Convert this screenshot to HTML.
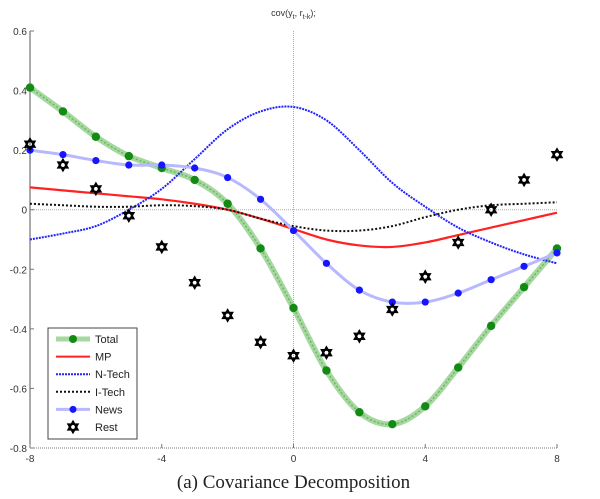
<!DOCTYPE html>
<html><head><meta charset="utf-8"><style>
body{margin:0;background:#fff;width:600px;height:494px;overflow:hidden}
svg text{font-family:"Liberation Sans",sans-serif}
svg text.cap{font-family:"Liberation Serif",serif}
</style></head><body>
<svg id="c" width="600" height="494"></svg>
<script>
const lags=[-8,-7,-6,-5,-4,-3,-2,-1,0,1,2,3,4,5,6,7,8];
const total=[.41,.33,.245,.18,.14,.10,.02,-.13,-.33,-.54,-.68,-.72,-.66,-.53,-.39,-.26,-.13];
const news=[.20,.185,.165,.15,.15,.14,.108,.035,-.07,-.18,-.27,-.31,-.31,-.28,-.235,-.19,-.145];
const rest=[.22,.15,.07,-.02,-.125,-.245,-.355,-.445,-.49,-.48,-.425,-.335,-.225,-.11,0,.1,.185];
const mp=[.075,.065,.055,.045,.035,.02,0,-.03,-.065,-.1,-.12,-.125,-.11,-.085,-.06,-.035,-.01];
const ntech=[-.1,-.08,-.055,0,.07,.17,.27,.33,.345,.3,.2,.09,.01,-.06,-.11,-.15,-.18];
const itech=[.02,.015,.01,.01,.015,.012,0,-.03,-.055,-.07,-.07,-.055,-.025,0,.015,.02,.025];
const yTicks=[0.6,0.4,0.2,0,-0.2,-0.4,-0.6,-0.8];
const xTicks=[-8,-4,0,4,8];
const L=30,R=557,T=31,B=448;
const X=v=>L+(v+8)/16*(R-L);
const Y=v=>T+(0.6-v)/1.4*(B-T);
const svg=document.getElementById('c');
const NS='http://www.w3.org/2000/svg';
function el(t,a,p){const e=document.createElementNS(NS,t);for(const k in a)e.setAttribute(k,a[k]);(p||svg).appendChild(e);return e;}
let ax=el('g',{});


el('line',{x1:L,y1:T,x2:L,y2:B,stroke:'#555','stroke-width':1},ax);
el('line',{x1:L,y1:B,x2:R,y2:B,stroke:'#777','stroke-width':1,'stroke-dasharray':'1,1'},ax);
el('line',{x1:X(0),y1:T,x2:X(0),y2:B,stroke:'#aaa','stroke-width':1,'stroke-dasharray':'1,1'},ax);
el('line',{x1:L,y1:Y(0),x2:R,y2:Y(0),stroke:'#aaa','stroke-width':1,'stroke-dasharray':'1,1'},ax);
yTicks.forEach(v=>{
 el('line',{x1:L,y1:Y(v),x2:L+4,y2:Y(v),stroke:'#777'},ax);
 const t=el('text',{x:L-3,y:Y(v)+4,'text-anchor':'end','font-size':10,fill:'#333'},ax);
 t.textContent=v===0?'0':v.toFixed(1);
 
 
});
xTicks.forEach(v=>{
 el('line',{x1:X(v),y1:B,x2:X(v),y2:B-4,stroke:'#777'},ax);
 const t=el('text',{x:X(v),y:B+14,'text-anchor':'middle','font-size':10,fill:'#333'},ax);
 t.textContent=v;
 
 
});
function smooth(arr){let d='M'+X(lags[0])+','+Y(arr[0]);for(let i=0;i<arr.length-1;i++){const p0=[X(lags[Math.max(i-1,0)]),Y(arr[Math.max(i-1,0)])],p1=[X(lags[i]),Y(arr[i])],p2=[X(lags[i+1]),Y(arr[i+1])],p3=[X(lags[Math.min(i+2,arr.length-1)]),Y(arr[Math.min(i+2,arr.length-1)])];d+='C'+(p1[0]+(p2[0]-p0[0])/6)+','+(p1[1]+(p2[1]-p0[1])/6)+' '+(p2[0]-(p3[0]-p1[0])/6)+','+(p2[1]-(p3[1]-p1[1])/6)+' '+p2[0]+','+p2[1];}return d;}
function hexa(g,cx,cy,r){
 const a=[],b=[];for(let i=0;i<3;i++){const t1=-Math.PI/2+i*2*Math.PI/3,t2=Math.PI/2+i*2*Math.PI/3;a.push((cx+r*Math.cos(t1))+','+(cy+r*Math.sin(t1)));b.push((cx+r*Math.cos(t2))+','+(cy+r*Math.sin(t2)));}
 el('polygon',{points:a.join(' '),fill:'none',stroke:'#000','stroke-width':1.8},g);
 el('polygon',{points:b.join(' '),fill:'none',stroke:'#000','stroke-width':1.8},g);
}
let g=el('g',{});


el('path',{d:smooth(total),fill:'none',stroke:'#a6d8a0','stroke-width':6},g);
el('path',{d:smooth(total),fill:'none',stroke:'#6ab865','stroke-width':1.5,'stroke-dasharray':'2,2'},g);
lags.forEach((k,i)=>{const c=el('circle',{cx:X(k),cy:Y(total[i]),r:4.2,fill:'#138a13'},g);});
g=el('g',{});


el('path',{d:smooth(mp),fill:'none',stroke:'#f22','stroke-width':2.2},g);
g=el('g',{});


el('path',{d:smooth(ntech),fill:'none',stroke:'#22f','stroke-width':2,'stroke-dasharray':'2,1'},g);
g=el('g',{});


el('path',{d:smooth(itech),fill:'none',stroke:'#111','stroke-width':2,'stroke-dasharray':'2,2'},g);
g=el('g',{});


el('path',{d:smooth(news),fill:'none',stroke:'#b8b8ff','stroke-width':3},g);
lags.forEach((k,i)=>{const c=el('circle',{cx:X(k),cy:Y(news[i]),r:3.6,fill:'#1515ff'},g);});
g=el('g',{});


lags.forEach((k,i)=>hexa(g,X(k),Y(rest[i]),5.5));
let t=el('text',{x:X(0),y:16,'text-anchor':'middle','font-size':9,fill:'#333'});
t.innerHTML='cov(y<tspan font-size="7" dy="3">t</tspan><tspan dy="-3">, r</tspan><tspan font-size="7" dy="3">t-k</tspan><tspan dy="-3">);</tspan>';


t=el('text',{x:X(0),y:488,'text-anchor':'middle','font-size':19,fill:'#222','class':'cap'});
t.textContent='(a) Covariance Decomposition';


const lg=el('g',{});


el('rect',{x:48,y:328,width:89,height:111,fill:'#fff',stroke:'#444','stroke-width':1},lg);
const names=['Total','MP','N-Tech','I-Tech','News','Rest'];
names.forEach((n,i)=>{
 const y=339+i*17.6,e=el('g',{},lg);
 
 
 if(i==0){el('line',{x1:56,y1:y,x2:90,y2:y,stroke:'#a6d8a0','stroke-width':5},e);el('circle',{cx:73,cy:y,r:4,fill:'#138a13'},e);}
 if(i==1)el('line',{x1:56,y1:y,x2:90,y2:y,stroke:'#f22','stroke-width':2},e);
 if(i==2)el('line',{x1:56,y1:y,x2:90,y2:y,stroke:'#22f','stroke-width':2,'stroke-dasharray':'2,1'},e);
 if(i==3)el('line',{x1:56,y1:y,x2:90,y2:y,stroke:'#111','stroke-width':2,'stroke-dasharray':'2,2'},e);
 if(i==4){el('line',{x1:56,y1:y,x2:90,y2:y,stroke:'#b8b8ff','stroke-width':3},e);el('circle',{cx:73,cy:y,r:3.5,fill:'#1515ff'},e);}
 if(i==5)hexa(e,73,y,5.5);
 const tx=el('text',{x:95,y:y+4,'font-size':11,fill:'#222'},e);tx.textContent=n;
});
</script>
</body></html>
